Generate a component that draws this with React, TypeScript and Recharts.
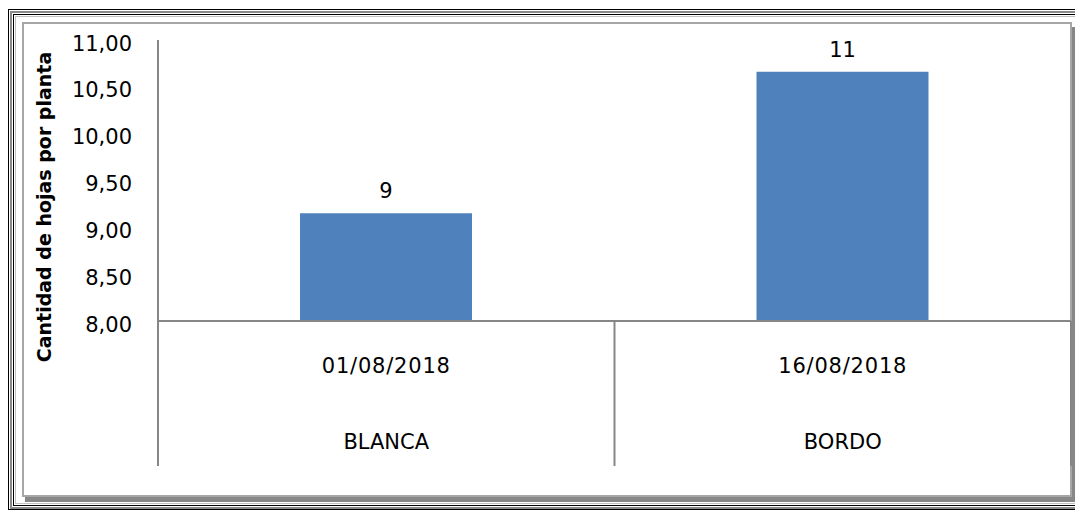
import React from 'react';
import { BarChart, Bar, XAxis, YAxis, LabelList } from 'recharts';

const dates = ['01/08/2018', '16/08/2018'];
const groups = ['BLANCA', 'BORDO'];
const hojas = [9.15, 10.66];
const barLabels = ['9', '11'];
const yTicks = [8, 8.5, 9, 9.5, 10, 10.5, 11];
const yTitle = 'Cantidad de hojas por planta';

const data = dates.map((d, i) => ({ date: d, group: groups[i], hojas: hojas[i], label: barLabels[i] }));

const W = 1075;
const H = 512;
const M = { top: 40, right: 4, left: 0, bottom: 46 };
const Y_W = 158;
const X1_H = 74;
const X2_H = 71;
const PLOT_L = M.left + Y_W;
const PLOT_R = W - M.right;
const PLOT_B = H - M.bottom - X1_H - X2_H;
const AXIS_END = H - M.bottom;
const BAND = (PLOT_R - PLOT_L) / dates.length;

const FONT = '"DejaVu Sans", sans-serif';
const AXIS_COLOR = '#868686';
const BAR_COLOR = '#4F81BD';

const fmt = (v: number) => v.toFixed(2).replace('.', ',');

const YTick = (props: any) => {
  const { x, y, payload } = props;
  return (
    <text x={x} y={y + 10.5} textAnchor="end" fontFamily={FONT} fontSize={21} fill="#000">
      {fmt(payload.value)}
    </text>
  );
};

const DateTick = (props: any) => {
  const { x, payload } = props;
  return (
    <text x={x} y={PLOT_B + 52} textAnchor="middle" fontFamily={FONT} fontSize={21} letterSpacing={0.8} fill="#000">
      {payload.value}
    </text>
  );
};

const GroupTick = (props: any) => {
  const { x, payload, index } = props;
  const isLast = index === dates.length - 1;
  return (
    <g>
      <line x1={x - BAND / 2} x2={x - BAND / 2} y1={PLOT_B} y2={AXIS_END} stroke={AXIS_COLOR} strokeWidth={2} />
      {isLast && (
        <line x1={x + BAND / 2} x2={x + BAND / 2} y1={PLOT_B} y2={AXIS_END} stroke={AXIS_COLOR} strokeWidth={2} />
      )}
      <text x={x} y={PLOT_B + 127.5} textAnchor="middle" fontFamily={FONT} fontSize={21} fill="#000">
        {payload.value}
      </text>
    </g>
  );
};

const YTitle = () => (
  <text
    transform="translate(44,207) rotate(-90)"
    textAnchor="middle"
    dominantBaseline="central"
    fontFamily={FONT}
    fontWeight="bold"
    fontSize={19}
    fill="#000"
  >
    {yTitle}
  </text>
);

export default function App() {
  return (
    <div style={{ position: 'absolute', left: 0, top: 0, width: W, height: H, overflow: 'hidden', background: '#fff' }}>
      {/* outer frame lines */}
      <div style={{ position: 'absolute', left: 8, top: 9, width: W + 20, height: 501, border: '1px solid #000', boxSizing: 'border-box' }} />
      <div style={{ position: 'absolute', left: 10, top: 11, width: W + 20, height: 498, border: '2px solid #8a8a8a', boxSizing: 'border-box' }} />
      <div style={{ position: 'absolute', left: 13, top: 14, width: W + 20, height: 492, border: '1px solid #000', boxSizing: 'border-box' }} />
      <div style={{ position: 'absolute', left: 15, top: 16, width: W + 20, height: 488, border: '1px solid #c0c0c0', boxSizing: 'border-box' }} />
      {/* inner box with shadow */}
      <div
        style={{
          position: 'absolute',
          left: 22,
          top: 22,
          width: 1050,
          height: 475,
          border: '2px solid #a6a6a6',
          boxSizing: 'border-box',
          background: '#fff',
          boxShadow: '3px 5px 0 #878787',
        }}
      />
      <div style={{ position: 'absolute', left: 0, top: 0 }}>
        <BarChart width={W} height={H} data={data} margin={M} barSize={172}>
          <YAxis
            type="number"
            domain={[8, 11]}
            ticks={yTicks}
            width={Y_W}
            tickSize={0}
            tickMargin={26}
            tick={<YTick />}
            axisLine={{ stroke: AXIS_COLOR, strokeWidth: 2 }}
            tickLine={false}
            label={<YTitle />}
          />
          <XAxis
            xAxisId={0}
            dataKey="date"
            height={X1_H}
            tickSize={0}
            tick={<DateTick />}
            axisLine={{ stroke: AXIS_COLOR, strokeWidth: 2 }}
            tickLine={false}
            interval={0}
          />
          <XAxis
            xAxisId={1}
            dataKey="group"
            height={X2_H}
            tickSize={0}
            tick={<GroupTick />}
            axisLine={false}
            tickLine={false}
            interval={0}
          />
          <Bar dataKey="hojas" xAxisId={0} fill={BAR_COLOR} isAnimationActive={false}>
            <LabelList dataKey="label" position="top" offset={15} fontFamily={FONT} fontSize={21} fill="#000" />
          </Bar>
        </BarChart>
      </div>
    </div>
  );
}
